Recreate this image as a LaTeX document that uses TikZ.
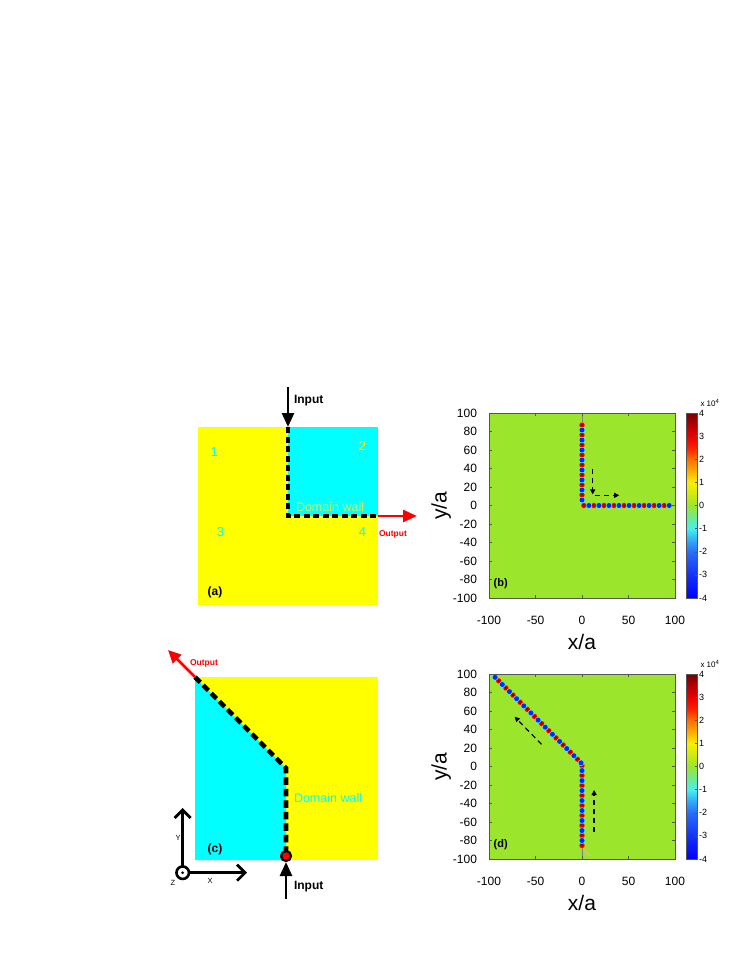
\documentclass[tikz,border=0pt]{standalone}
\usepackage{fontspec}
\setmainfont{Liberation Sans}
\usetikzlibrary{arrows.meta}
\definecolor{dyel}{RGB}{255,255,0}
\definecolor{dcyan}{RGB}{0,255,255}
\definecolor{plotbg}{RGB}{155,230,45}
\definecolor{dwall}{RGB}{215,235,85}
\definecolor{framegray}{RGB}{85,85,85}
\definecolor{j0}{RGB}{0,0,255}
\definecolor{j1}{RGB}{20,50,250}
\definecolor{j2}{RGB}{40,110,250}
\definecolor{j3}{RGB}{50,170,250}
\definecolor{j4}{RGB}{70,240,240}
\definecolor{j5}{RGB}{110,235,140}
\definecolor{j6}{RGB}{155,230,45}
\definecolor{j7}{RGB}{205,235,15}
\definecolor{j8}{RGB}{250,240,0}
\definecolor{j9}{RGB}{255,170,0}
\definecolor{j10}{RGB}{255,110,0}
\definecolor{j11}{RGB}{255,30,0}
\definecolor{j12}{RGB}{235,0,0}
\definecolor{j13}{RGB}{180,0,0}
\definecolor{j14}{RGB}{120,0,0}
\definecolor{dred}{RGB}{150,0,0}
\definecolor{dblue}{RGB}{0,40,255}
\pgfdeclareverticalshading{jetbar}{100bp}{color(0bp)=(j0); color(25bp)=(j0); color(31.25bp)=(j1); color(37.5bp)=(j2); color(40.625bp)=(j3); color(43.75bp)=(j4); color(46.875bp)=(j5); color(50bp)=(j6); color(53.125bp)=(j7); color(56.25bp)=(j8); color(59.375bp)=(j9); color(62.5bp)=(j10); color(65.625bp)=(j11); color(68.75bp)=(j12); color(71.875bp)=(j13); color(75bp)=(j14); color(100bp)=(j14)}
\newcommand{\rdot}[1]{\fill[j9] #1 circle[radius=3.2pt]; \fill[j12] #1 circle[radius=2.6pt]; \fill[dred] #1 circle[radius=1.7pt];}
\newcommand{\bdot}[1]{\fill[j4] #1 circle[radius=3.2pt]; \fill[dblue] #1 circle[radius=2.5pt];}
\newcommand{\plotframe}[2]{%
\begin{scope}[shift={(582,#2)}, x=0.93pt, y=0.925pt]
  \draw[framegray, line width=0.8pt] (-100,-100) rectangle (100,100);
  \foreach \v [count=\k] in {-100,-80,...,100} {
    \draw[framegray, line width=0.6pt] (-100,\v) -- ++(3pt,0) (100,\v) -- ++(-3pt,0);
    \node[anchor=east, xshift=-12pt, font=\fontsize{12}{12}\selectfont] (#1yl\k) at (-100,\v) {\v};
  }
  \foreach \u [count=\k] in {-100,-50,...,100} {
    \draw[framegray, line width=0.6pt] (\u,-100) -- ++(0,3pt) (\u,100) -- ++(0,-3pt);
    \node[yshift=-22pt, font=\fontsize{12}{12}\selectfont] (#1xl\k) at (\u,-100) {\u};
  }
  \node[yshift=-44pt, font=\fontsize{21}{21}\selectfont] (#1xa) at (0,-100) {x/a};
  \node[rotate=90, font=\fontsize{21}{21}\selectfont] (#1ya) at (-151.5,0) {y/a};
  \node[anchor=west, font=\bfseries\fontsize{11}{11}\selectfont] (#1lab) at (-95,-84) {(#1)};
\end{scope}
\begin{scope}[shift={(691.5,#2)}, y=11.5625pt]
  \shade[shading=jetbar] (-5.5,-8) rectangle (5.5,8);
  \draw[framegray, line width=0.7pt] (-5.5,-8) rectangle (5.5,8);
  \foreach \c [count=\k] in {-4,...,4} {
    \draw[framegray, line width=0.5pt] (5.5,{2*\c}) -- ++(-2pt,0);
    \node[anchor=west, font=\fontsize{9}{9}\selectfont] (#1cb\k) at (7.5,{2*\c}) {\c};
  }
  \node[font=\fontsize{8}{8}\selectfont] (#1cbx) at (18.5,8.85) {x 10\textsuperscript{4}};
\end{scope}}
\begin{document}
\begin{tikzpicture}[x=1pt,y=-1pt, every node/.style={inner sep=0pt, outer sep=0pt},
  dwa/.style={line width=3.2pt, dash pattern=on 6pt off 3.5pt, black},
  dwc/.style={line width=4.6pt, dash pattern=on 7.5pt off 4pt, black},
  bigarrow/.style={line width=2.6pt, -{Triangle[length=14pt,width=12pt]}},
  axarrow/.style={line width=2.8pt, -{Straight Barb[length=8pt,width=16pt]}},
  plotarrow/.style={line width=1.2pt, dash pattern=on 5pt off 4pt, -{Triangle[length=5pt,width=5pt]}},
  numlab/.style={font=\fontsize{13}{13}\selectfont},
  wallab/.style={font=\fontsize{12.5}{12.5}\selectfont},
  inlab/.style={font=\bfseries\fontsize{12}{12}\selectfont},
  outlab/.style={font=\bfseries\fontsize{8.5}{8.5}\selectfont, text=red}]
\useasboundingbox[fill=white] (0,0) rectangle (747,967);

% ---------- panel (a)
\fill[dyel] (198,427) rectangle (378,605);
\fill[dcyan] (288,427) rectangle (378,516);
\coordinate (aTop) at (288,427);
\coordinate (aCorner) at (288,516);
\coordinate (aRight) at (378,516);
\draw[dwa] (aTop) -- (aCorner) -- (aRight);
\coordinate (aInTail) at (288,387);
\draw[bigarrow] (aInTail) -- (aTop);
\coordinate (aOutTip) at (417,516);
\draw[bigarrow, red] (aRight) -- (aOutTip);
\node[inlab, anchor=west] (aIn) at (294,400.5) {Input};
\node[outlab, anchor=west] (aOut) at (379,534.5) {Output};
\node[wallab, text=dwall, anchor=west] (aWall) at (296,507) {Domain wall};
\node[numlab, text=dcyan] (a1) at (214.5,452) {1};
\node[numlab, text=dyel] (a2) at (362.5,446) {2};
\node[numlab, text=dcyan] (a3) at (220.5,532) {3};
\node[numlab, text=dcyan] (a4) at (362.5,532) {4};
\node[font=\bfseries\fontsize{12}{12}\selectfont] (aLab) at (215,592) {(a)};

% ---------- panel (c)
\fill[dyel] (195,677) rectangle (378,860);
\fill[dcyan] (195,677) -- (286,768) -- (286,860) -- (195,860) -- cycle;
\coordinate (cTop) at (195,677);
\coordinate (cCorner) at (286,768);
\coordinate (cBot) at (286,856);
\draw[dwc] (cTop) -- (cCorner) -- (cBot);
\coordinate (cOutTip) at (168,650);
\draw[bigarrow, red, -{Triangle[length=13pt,width=12pt]}] (cTop) -- (cOutTip);
\node[outlab, anchor=west] (cOut) at (190,663.5) {Output};
\coordinate (cInTail) at (286,899);
\coordinate (cInTip) at (286,862);
\draw[bigarrow] (cInTail) -- (cInTip);
\node[fill=red, draw=black, line width=2.2pt, circle, minimum size=10pt] (cDot) at (cBot) {};
\node[inlab, anchor=west] (cIn) at (294,886.5) {Input};
\node[wallab, text=dcyan, anchor=west] (cWall) at (294,798) {Domain wall};
\node[font=\bfseries\fontsize{12}{12}\selectfont] (cLab) at (215,849) {(c)};
% axes
\node[draw=black, fill=white, line width=2.6pt, circle, minimum size=12.5pt] (cO) at (182.7,872.7) {};
\fill (cO.center) circle[radius=1.5pt];
\coordinate (cYtip) at (182.7,808);
\coordinate (cXtip) at (247,872.7);
\draw[axarrow] (cO.north) -- (cYtip);
\draw[axarrow] (cO.east) -- (cXtip);
\node[font=\fontsize{7.5}{7.5}\selectfont] (cY) at (178,838) {Y};
\node[font=\fontsize{7.5}{7.5}\selectfont] (cX) at (210,880.5) {X};
\node[font=\fontsize{7.5}{7.5}\selectfont] (cZ) at (173,882.5) {Z};

% ---------- panel (b)
\begin{scope}[shift={(582,505.5)}, x=0.93pt, y=0.925pt]
  \fill[plotbg] (-100,-100) rectangle (100,100);
  \draw[gray, line width=0.6pt] (0,88) -- (0,100);
  \draw[red!40, line width=0.5pt] (1,88) .. controls (4,91) and (8,92) .. (14,91);
  \foreach \i in {0,2,...,14} {\rdot{(0,{87-5.4*\i})}}
  \foreach \i in {1,3,...,15} {\bdot{(0,{87-5.4*\i})}}
  \foreach \i in {0,2,...,16} {\rdot{({2+5.4*\i},0)}}
  \foreach \i in {1,3,...,17} {\bdot{({2+5.4*\i},0)}}
  \coordinate (bA0) at (11.5,40);
  \coordinate (bA1) at (11.5,12);
  \coordinate (bB0) at (14,11);
  \coordinate (bB1) at (40,11);
  \draw[plotarrow] (bA0) -- (bA1);
  \draw[plotarrow] (bB0) -- (bB1);
\end{scope}
\plotframe{b}{505.5}

% ---------- panel (d)
\begin{scope}[shift={(582,766.5)}, x=0.93pt, y=0.925pt]
  \fill[plotbg] (-100,-100) rectangle (100,100);
  \draw[gray, line width=0.6pt] (0,-88) -- (0,-100);
  \draw[red!30, line width=0.5pt] (1,-89) .. controls (4,-92) and (7,-95) .. (10,-97);
  \foreach \i in {0,2,...,16} {\rdot{(0,{1-5.4*\i})}}
  \foreach \i in {1,3,...,15} {\bdot{(0,{1-5.4*\i})}}
  \foreach \i in {1,3,...,23} {\rdot{({-1-3.85*\i},{4+3.85*\i})}}
  \foreach \i in {0,2,...,24} {\bdot{({-1-3.85*\i},{4+3.85*\i})}}
  \coordinate (dA0) at (-43.6,24);
  \coordinate (dA1) at (-72.4,53.8);
  \coordinate (dB0) at (13,-70.5);
  \coordinate (dB1) at (13,-25.4);
  \draw[plotarrow] (dA0) -- (dA1);
  \draw[plotarrow] (dB0) -- (dB1);
\end{scope}
\plotframe{d}{766.5}
\end{tikzpicture}
\end{document}
